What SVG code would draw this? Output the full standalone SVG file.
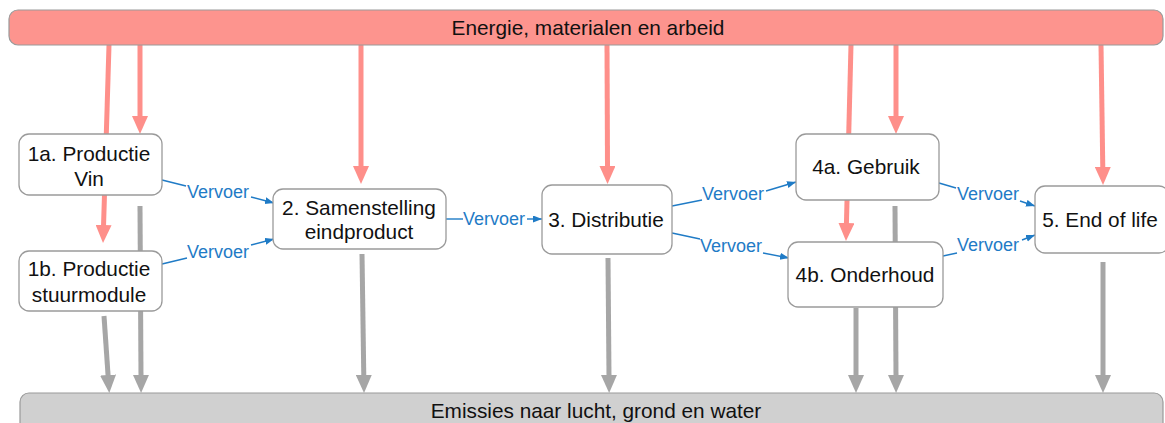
<svg xmlns="http://www.w3.org/2000/svg" width="1165" height="423" viewBox="0 0 1165 423">
<style>
  .bar-top { fill: #FD948E; stroke: #9A9A9A; stroke-width: 1.2; }
  .bar-bot { fill: #D0D0D0; stroke: #9A9A9A; stroke-width: 1.2; }
  .node { fill: #FFFFFF; stroke: #9A9A9A; stroke-width: 1.3; }
  .txt { font-family: "Liberation Sans", Arial, sans-serif; font-size: 20.8px; fill: #111111; text-anchor: middle; }
  .lbl { font-family: "Liberation Sans", Arial, sans-serif; font-size: 18px; fill: #1F7BC6; }
  .red { stroke: #FE8F8A; stroke-width: 5; fill: none; marker-end: url(#ah-red); }
  .gray { stroke: #A6A6A6; stroke-width: 5; fill: none; marker-end: url(#ah-gray); }
  .blue { stroke: #1F7BC6; stroke-width: 1.4; fill: none; }
  .blue-a { stroke: #1F7BC6; stroke-width: 1.4; fill: none; marker-end: url(#ah-blue); }
</style>
<defs>
  <marker id="ah-red" markerUnits="userSpaceOnUse" markerWidth="20" markerHeight="16" refX="2" refY="8" orient="auto">
    <path d="M0,0 L18,8 L0,16 z" fill="#FE8F8A"/>
  </marker>
  <marker id="ah-gray" markerUnits="userSpaceOnUse" markerWidth="20" markerHeight="16" refX="2" refY="8" orient="auto">
    <path d="M0,0 L18,8 L0,16 z" fill="#A6A6A6"/>
  </marker>
  <marker id="ah-blue" markerUnits="userSpaceOnUse" markerWidth="10" markerHeight="8" refX="9" refY="3.5" orient="auto">
    <path d="M0,0 L9,3.5 L0,7 z" fill="#1F7BC6"/>
  </marker>
</defs>

<g id="connectors">
  <!-- energy inputs -->
  <line class="red" x1="109" y1="45" x2="103.5" y2="227"/>
  <line class="red" x1="140" y1="45" x2="140" y2="118"/>
  <line class="red" x1="361" y1="45" x2="361" y2="168"/>
  <line class="red" x1="607" y1="45" x2="607.5" y2="168"/>
  <line class="red" x1="851" y1="45" x2="846.4" y2="225"/>
  <line class="red" x1="896" y1="45" x2="896" y2="118"/>
  <line class="red" x1="1101" y1="45" x2="1102.8" y2="169"/>
  <!-- emissions -->
  <line class="gray" x1="104" y1="316" x2="108.2" y2="377"/>
  <line class="gray" x1="140" y1="206" x2="141" y2="377"/>
  <line class="gray" x1="362" y1="254" x2="363.8" y2="377"/>
  <line class="gray" x1="608" y1="258" x2="609" y2="377"/>
  <line class="gray" x1="895" y1="206" x2="896" y2="377"/>
  <line class="gray" x1="856" y1="308" x2="856" y2="377"/>
  <line class="gray" x1="1103" y1="262" x2="1103" y2="377"/>
  <!-- transport -->
  <line class="blue" x1="162" y1="180" x2="186" y2="186"/>
  <line class="blue-a" x1="251" y1="197" x2="274" y2="203"/>
  <text class="lbl" x="187" y="198">Vervoer</text>

  <line class="blue" x1="162" y1="264" x2="187" y2="258"/>
  <line class="blue-a" x1="251" y1="245" x2="274" y2="239"/>
  <text class="lbl" x="187" y="258">Vervoer</text>

  <line class="blue" x1="446" y1="219" x2="463" y2="219"/>
  <line class="blue-a" x1="527" y1="219" x2="542" y2="219"/>
  <text class="lbl" x="463" y="225">Vervoer</text>

  <line class="blue" x1="672" y1="206" x2="702" y2="200"/>
  <line class="blue-a" x1="766" y1="191" x2="796" y2="182"/>
  <text class="lbl" x="702" y="200">Vervoer</text>

  <line class="blue" x1="672" y1="233" x2="700" y2="239"/>
  <line class="blue-a" x1="763" y1="253" x2="789" y2="258"/>
  <text class="lbl" x="700" y="252">Vervoer</text>

  <line class="blue" x1="939" y1="183" x2="956" y2="188"/>
  <line class="blue-a" x1="1020" y1="201" x2="1035" y2="206"/>
  <text class="lbl" x="957" y="200">Vervoer</text>

  <line class="blue" x1="943" y1="256" x2="957" y2="253"/>
  <line class="blue-a" x1="1022" y1="240" x2="1035" y2="235"/>
  <text class="lbl" x="957" y="251">Vervoer</text>
</g>

<g id="energie">
  <rect class="bar-top" x="9" y="10" width="1154" height="35" rx="9"/>
  <text class="txt" x="588" y="35">Energie, materialen en arbeid</text>
</g>

<g id="emissies">
  <rect class="bar-bot" x="20" y="393" width="1143" height="45" rx="9"/>
  <text class="txt" x="596" y="418">Emissies naar lucht, grond en water</text>
</g>

<g id="n1a">
  <rect class="node" x="19" y="134" width="143" height="61" rx="10"/>
  <text class="txt" x="89" y="161">1a. Productie</text>
  <text class="txt" x="89" y="186">Vin</text>
</g>
<g id="n1b">
  <rect class="node" x="19" y="251" width="143" height="60" rx="10"/>
  <text class="txt" x="89" y="276">1b. Productie</text>
  <text class="txt" x="89" y="302">stuurmodule</text>
</g>
<g id="n2">
  <rect class="node" x="273" y="189" width="173" height="60" rx="10"/>
  <text class="txt" x="359" y="215">2. Samenstelling</text>
  <text class="txt" x="359" y="239">eindproduct</text>
</g>
<g id="n3">
  <rect class="node" x="542" y="185" width="130" height="69" rx="10"/>
  <text class="txt" x="606" y="227">3. Distributie</text>
</g>
<g id="n4a">
  <rect class="node" x="796" y="134" width="143" height="66" rx="10"/>
  <text class="txt" x="866" y="174">4a. Gebruik</text>
</g>
<g id="n4b">
  <rect class="node" x="788" y="242" width="155" height="65" rx="10"/>
  <text class="txt" x="865" y="282">4b. Onderhoud</text>
</g>
<g id="n5">
  <rect class="node" x="1035" y="186" width="134" height="67" rx="10"/>
  <text class="txt" x="1100" y="227">5. End of life</text>
</g>
</svg>
